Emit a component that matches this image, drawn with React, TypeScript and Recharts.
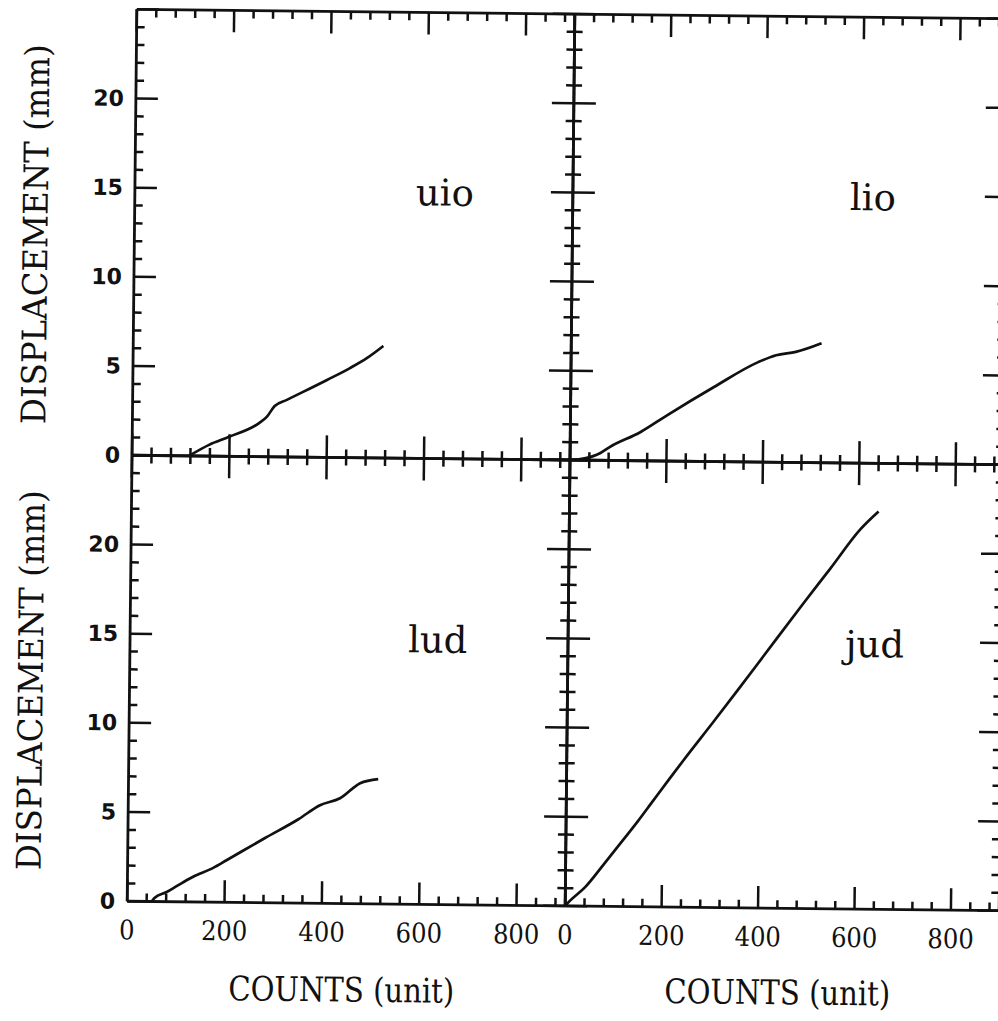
import React from 'react';
import { LineChart, Line, XAxis, YAxis } from 'recharts';

// axis ticks
const countTicks = [0, 40, 80, 120, 160, 200, 240, 280, 320, 360, 400, 440, 480, 520, 560, 600, 640, 680, 720, 760, 800, 840, 880];
const countLabels = [0, 200, 400, 600, 800];
const dispTicks = [0, 1, 2, 3, 4, 5, 6, 7, 8, 9, 10, 11, 12, 13, 14, 15, 16, 17, 18, 19, 20, 21, 22, 23, 24, 25];
const dispMajor = [0, 5, 10, 15, 20, 25];
const dispLabels = [0, 5, 10, 15, 20];

// series (counts, displacement in mm)
const uioCounts = [117, 158, 199, 261, 276, 292, 317, 399, 446, 481, 514];
const uioDisp = [0, 0.63, 1.09, 1.89, 2.23, 2.85, 3.2, 4.34, 5.02, 5.6, 6.28];

const lioCounts = [0, 30, 62, 82, 145, 201, 297, 388, 425, 466, 519];
const lioDisp = [0, 0.1, 0.4, 0.75, 1.6, 2.58, 4.18, 5.6, 6.0, 6.2, 6.7];

const ludCounts = [50, 56, 81, 102, 134, 176, 204, 280, 350, 394, 435, 476, 513];
const ludDisp = [0, 0.2, 0.54, 0.89, 1.4, 1.92, 2.37, 3.6, 4.7, 5.5, 5.9, 6.76, 7.0];

const judCounts = [0, 10, 41, 81, 122, 149, 176, 211, 241, 303, 353, 405, 487, 543, 604, 641];
const judDisp = [0, 0.3, 1.07, 2.43, 3.85, 4.8, 5.8, 7.1, 8.2, 10.4, 12.2, 14.1, 17.1, 19.1, 21.3, 22.3];

const toRows = (c: number[], d: number[]) => c.map((v, i) => ({ c: v, d: d[i] }));

const W = 1040;
const H = 1021;
const PL = 132;   // left edge of left panels
const PM = 570;   // shared vertical axis
const PR = 1004;  // right edge of right panels
const PT = 14;
const PMID = 460;
const PB = 906;

const MAJOR = 22;
const MINOR = 8;
const ink = '#111';
const serif = "'DejaVu Serif Condensed', 'DejaVu Serif', serif";

const bottomTick = (labels: boolean) => (props: any) => {
  const { x, y, payload } = props;
  const major = countLabels.includes(payload.value);
  return (
    <g>
      <line x1={x} y1={y} x2={x} y2={y - (major ? MAJOR : MINOR)} stroke={ink} strokeWidth={2.5} />
      {labels && major && (
        <text x={x} y={y + 38} textAnchor="middle" fontFamily={serif} fontSize={27} fill={ink}>
          {payload.value}
        </text>
      )}
    </g>
  );
};

const topTick = (props: any) => {
  const { x, y, payload } = props;
  const major = countLabels.includes(payload.value);
  return <line x1={x} y1={y} x2={x} y2={y + (major ? MAJOR : MINOR)} stroke={ink} strokeWidth={2.5} />;
};

const leftTick = (labels: boolean) => (props: any) => {
  const { x, y, payload } = props;
  const major = dispMajor.includes(payload.value);
  return (
    <g>
      <line x1={x} y1={y} x2={x + (major ? MAJOR : MINOR)} y2={y} stroke={ink} strokeWidth={2.5} />
      {labels && dispLabels.includes(payload.value) && (
        <text x={x - 12} y={y} textAnchor="end" dominantBaseline="central" fontFamily="'DejaVu Sans', sans-serif"
          fontWeight="bold" fontSize={22} fill={ink}>
          {payload.value}
        </text>
      )}
    </g>
  );
};

const rightTick = (props: any) => {
  const { x, y, payload } = props;
  const major = dispMajor.includes(payload.value);
  return <line x1={x} y1={y} x2={x - (major ? MAJOR : MINOR)} y2={y} stroke={ink} strokeWidth={2.5} />;
};

const axisLine = { stroke: ink, strokeWidth: 2.8 };

interface PanelProps {
  rows: { c: number; d: number }[];
  left: number;
  right: number;
  top: number;
  bottom: number;
  xLabels: boolean;
  yLabels: boolean;
}

// axes are 1px thick boxes, so margins are one pixel short of the plot edges
const Panel: React.FC<PanelProps> = ({ rows, left, right, top, bottom, xLabels, yLabels }) => (
  <div style={{ position: 'absolute', left: 0, top: 0 }}>
    <LineChart width={W} height={H} data={rows}
      margin={{ top: top - 1, left: left - 1, right: W - right - 1, bottom: H - bottom - 1 }}>
      <XAxis xAxisId="b" orientation="bottom" dataKey="c" type="number" domain={[0, 900]} allowDataOverflow
        ticks={countTicks} interval={0} height={1} tickSize={0} tickMargin={0} tickLine={false}
        axisLine={axisLine} tick={bottomTick(xLabels)} />
      <XAxis xAxisId="t" orientation="top" dataKey="c" type="number" domain={[0, 900]} allowDataOverflow
        ticks={countTicks} interval={0} height={1} tickSize={0} tickMargin={0} tickLine={false}
        axisLine={axisLine} tick={topTick} />
      <YAxis yAxisId="l" orientation="left" type="number" domain={[0, 25]} allowDataOverflow
        ticks={dispTicks} interval={0} width={1} tickSize={0} tickMargin={0} tickLine={false}
        axisLine={axisLine} tick={leftTick(yLabels)} />
      <YAxis yAxisId="r" orientation="right" type="number" domain={[0, 25]} allowDataOverflow
        ticks={dispTicks} interval={0} width={1} tickSize={0} tickMargin={0} tickLine={false}
        axisLine={axisLine} tick={rightTick} />
      <Line xAxisId="b" yAxisId="l" type="monotone" dataKey="d" stroke={ink} strokeWidth={2.7}
        strokeLinejoin="round" dot={false} isAnimationActive={false} />
    </LineChart>
  </div>
);

const panelName = { fontFamily: "'DejaVu Serif', serif", fontSize: 37, fill: ink };
const axisTitle = { fontFamily: serif, fontSize: 34, fill: ink };

export default function App() {
  return (
    <div style={{ position: 'absolute', left: 0, top: 0, width: 998, height: 1021, overflow: 'hidden', background: '#fff' }}>
      <div style={{ position: 'relative', width: W, height: H, transform: 'rotate(0.62deg)', transformOrigin: `${PM}px ${PMID}px` }}>
        <Panel rows={toRows(uioCounts, uioDisp)} left={PL} right={PM} top={PT} bottom={PMID} xLabels={false} yLabels />
        <Panel rows={toRows(lioCounts, lioDisp)} left={PM} right={PR} top={PT} bottom={PMID} xLabels={false} yLabels={false} />
        <Panel rows={toRows(ludCounts, ludDisp)} left={PL} right={PM} top={PMID} bottom={PB} xLabels yLabels />
        <Panel rows={toRows(judCounts, judDisp)} left={PM} right={PR} top={PMID} bottom={PB} xLabels yLabels={false} />
        <svg width={W} height={H} style={{ position: 'absolute', left: 0, top: 0, pointerEvents: 'none' }}>
          <text x={413} y={207} {...panelName}>uio</text>
          <text x={847} y={207} {...panelName}>lio</text>
          <text x={410} y={654} {...panelName}>lud</text>
          <text x={847} y={654} {...panelName}>jud</text>
          <text x={45} y={240} transform="rotate(-90 45 240)" textAnchor="middle" textLength={380} lengthAdjust="spacingAndGlyphs" {...axisTitle}>DISPLACEMENT (mm)</text>
          <text x={45} y={686} transform="rotate(-90 45 686)" textAnchor="middle" textLength={380} lengthAdjust="spacingAndGlyphs" {...axisTitle}>DISPLACEMENT (mm)</text>
          <text x={347} y={1004} textAnchor="middle" textLength={226} lengthAdjust="spacingAndGlyphs" {...axisTitle}>COUNTS (unit)</text>
          <text x={783} y={1002} textAnchor="middle" textLength={226} lengthAdjust="spacingAndGlyphs" {...axisTitle}>COUNTS (unit)</text>
        </svg>
      </div>
    </div>
  );
}
